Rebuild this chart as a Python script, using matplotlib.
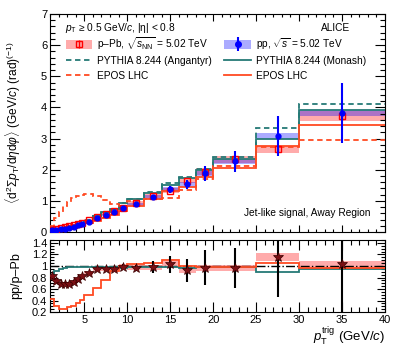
import numpy as np
import matplotlib
matplotlib.use("Agg")
import matplotlib.pyplot as plt
from matplotlib.lines import Line2D
from matplotlib.patches import Patch
from matplotlib.legend_handler import HandlerTuple
from matplotlib.ticker import MultipleLocator, FuncFormatter

plt.rcParams['font.family'] = ['Liberation Sans', 'DejaVu Sans']
plt.rcParams['mathtext.fontset'] = 'custom'
plt.rcParams['mathtext.rm'] = 'Liberation Sans'
plt.rcParams['mathtext.it'] = 'Liberation Sans:italic'
plt.rcParams['mathtext.bf'] = 'Liberation Sans:bold'

# ---------------- data ----------------
edges = [1, 1.5, 2, 2.5, 3, 3.5, 4, 4.5, 5, 6, 7, 8, 9, 10, 12, 14, 16, 18, 20, 25, 30, 40]

pp_val = [0.05, 0.07, 0.09, 0.11, 0.14, 0.17, 0.21, 0.25, 0.33, 0.44, 0.55, 0.65, 0.76, 0.89,
          1.13, 1.37, 1.53, 1.88, 2.27, 3.09, 3.82]
pp_stat = [0.005, 0.005, 0.006, 0.007, 0.008, 0.009, 0.01, 0.012, 0.015, 0.02, 0.025, 0.03,
           0.04, 0.05, 0.07, 0.12, 0.15, 0.24, 0.33, 0.64, 0.97]
pp_syst = [0.01, 0.01, 0.01, 0.01, 0.012, 0.014, 0.015, 0.017, 0.02, 0.025, 0.03, 0.035,
           0.04, 0.045, 0.055, 0.065, 0.07, 0.08, 0.09, 0.09, 0.1]

ppb_val = [0.06, 0.094, 0.13, 0.16, 0.20, 0.23, 0.27, 0.30, 0.375, 0.47, 0.585, 0.685, 0.77,
           0.92, 1.15, 1.33, 1.65, 1.94, 2.34, 2.65, 3.72]
ppb_stat = [0.003, 0.004, 0.004, 0.005, 0.005, 0.006, 0.006, 0.007, 0.008, 0.01, 0.012, 0.014,
            0.016, 0.02, 0.025, 0.03, 0.035, 0.045, 0.05, 0.09, 0.12]
ppb_syst = [0.012, 0.015, 0.018, 0.02, 0.022, 0.025, 0.028, 0.03, 0.035, 0.04, 0.045, 0.05,
            0.055, 0.06, 0.07, 0.08, 0.09, 0.1, 0.11, 0.1, 0.17]

pythia_monash = [0.06, 0.08, 0.10, 0.13, 0.16, 0.19, 0.23, 0.28, 0.36, 0.50, 0.63, 0.73, 0.92,
                 1.05, 1.25, 1.52, 1.72, 2.00, 2.35, 3.00, 3.92]
pythia_angantyr = [0.07, 0.087, 0.105, 0.134, 0.163, 0.193, 0.232, 0.283, 0.37, 0.51, 0.64,
                   0.74, 0.93, 1.07, 1.27, 1.56, 1.77, 2.03, 2.40, 3.33, 4.12]
epos_pp = [0.08, 0.11, 0.14, 0.17, 0.20, 0.23, 0.26, 0.29, 0.30, 0.36, 0.46, 0.56, 0.66, 0.82,
           1.06, 1.31, 1.43, 1.76, 2.07, 2.76, 3.45]
epos_ppb = [0.20, 0.45, 0.65, 0.82, 0.97, 1.08, 1.16, 1.20, 1.21, 1.15, 1.02, 0.90, 0.80, 1.00,
            1.05, 1.10, 1.36, 1.70, 2.12, 2.74, 2.94]

ratio_val = [0.83, 0.745, 0.69, 0.69, 0.69, 0.73, 0.77, 0.82, 0.88, 0.94, 0.94, 0.95, 0.99,
             0.97, 0.98, 1.03, 0.925, 0.97, 0.97, 1.16, 1.03]
ratio_stat = [0.02, 0.02, 0.02, 0.02, 0.02, 0.02, 0.02, 0.02, 0.02, 0.03, 0.03, 0.04, 0.04,
              0.05, 0.1, 0.15, 0.2, 0.3, 0.35, 0.7, 1.5]
ratio_syst = [0.035, 0.035, 0.035, 0.035, 0.035, 0.035, 0.035, 0.035, 0.035, 0.035, 0.035,
              0.04, 0.04, 0.04, 0.045, 0.06, 0.05, 0.05, 0.05, 0.065, 0.06]
ratio_pythia = [0.85, 0.92, 0.955, 0.97, 0.98, 0.985, 0.99, 0.99, 0.98, 0.98, 0.985, 0.985,
                0.97, 0.98, 0.985, 0.975, 0.97, 0.985, 0.98, 0.90, 0.95]
ratio_epos = [0.42, 0.30, 0.26, 0.26, 0.28, 0.31, 0.35, 0.41, 0.50, 0.62, 0.76, 0.91, 1.00,
              1.03, 1.05, 1.10, 1.00, 0.98, 0.98, 1.06, 0.97]

# ---------------- style ----------------
C_TEAL = '#257a76'
C_ORANGE = '#ff4a22'
C_BLUE = '#0000ff'
C_RED = '#ff0000'
C_STAR = '#7a0f14'

e = np.array(edges)
cen = 0.5 * (e[:-1] + e[1:])
wid = np.diff(e)

fig = plt.figure(figsize=(4.03, 3.49), dpi=100)
ax = fig.add_axes([0.124, 0.3352, 0.831, 0.6247])
axr = fig.add_axes([0.124, 0.106, 0.831, 0.2063])

# ---------------- main panel ----------------
pp_v = np.array(pp_val); pb_v = np.array(ppb_val)
ax.bar(e[:-1], 2 * np.array(ppb_syst), bottom=pb_v - np.array(ppb_syst), width=wid,
       align='edge', color=C_RED, alpha=0.33, lw=0, zorder=1)
ax.bar(e[:-1], 2 * np.array(pp_syst), bottom=pp_v - np.array(pp_syst), width=wid,
       align='edge', color=C_BLUE, alpha=0.33, lw=0, zorder=1)

ax.stairs(pythia_angantyr, edges, color=C_TEAL, lw=1.3, ls=(0, (3, 2)), baseline=None, zorder=3)
ax.stairs(pythia_monash, edges, color=C_TEAL, lw=1.3, baseline=None, zorder=3)
ax.stairs(epos_ppb, edges, color=C_ORANGE, lw=1.3, ls=(0, (3, 2)), baseline=None, zorder=3)
ax.stairs(epos_pp, edges, color=C_ORANGE, lw=1.3, baseline=None, zorder=3)

ax.errorbar(cen, pb_v, yerr=ppb_stat, fmt='s', ms=4, mfc='none', mec=C_RED, mew=1.0,
            ecolor=C_RED, elinewidth=1.0, capsize=0, zorder=4)
ax.errorbar(cen, pp_v, yerr=pp_stat, fmt='o', ms=3.5, color=C_BLUE, mec=C_BLUE,
            ecolor=C_BLUE, elinewidth=1.5, capsize=0, zorder=5)

ax.set_xlim(1, 40)
ax.set_ylim(0, 7)
ax.xaxis.set_major_locator(MultipleLocator(5))
ax.xaxis.set_minor_locator(MultipleLocator(1))
ax.yaxis.set_major_locator(MultipleLocator(1))
ax.yaxis.set_minor_locator(MultipleLocator(0.2))
ax.tick_params(axis='both', which='both', direction='in', top=True, right=True, labelsize=8)
ax.tick_params(axis='y', which='major', length=7, width=0.8, pad=2)
ax.tick_params(axis='y', which='minor', length=3.5, width=0.8)
ax.tick_params(axis='x', which='major', length=5, width=0.8)
ax.tick_params(axis='x', which='minor', length=2.5, width=0.8)
ax.tick_params(axis='x', labelbottom=False)
ax.set_ylabel(r'$\langle \mathrm{d}^{2}\Sigma p_{\mathrm{T}}/\mathrm{d}\eta\mathrm{d}\varphi\rangle$ (GeV/$c$) (rad)$^{(-1)}$',
              fontsize=8.6)
ax.yaxis.set_label_coords(-0.082, 0.5)

ax.text(0.045, 0.935, r'$p_{\mathrm{T}}$ ≥ 0.5 GeV/$c$, |η| < 0.8', transform=ax.transAxes,
        fontsize=7.3, va='center', ha='left')
ax.text(0.81, 0.935, 'ALICE', transform=ax.transAxes, fontsize=7.3, va='center', ha='left')
ax.text(0.958, 0.085, 'Jet-like signal, Away Region', transform=ax.transAxes, fontsize=7.3,
        va='center', ha='right')

h_ppb = (Patch(facecolor=C_RED, alpha=0.33, lw=0),
         Line2D([], [], color=C_RED, marker='|', ms=6, ls='none', mew=1.0),
         Line2D([], [], color=C_RED, marker='s', ms=4, mfc='none', ls='none', mew=1.0))
h_pp = (Patch(facecolor=C_BLUE, alpha=0.33, lw=0),
        Line2D([], [], color=C_BLUE, marker='|', ms=10, ls='none', mew=1.5),
        Line2D([], [], color=C_BLUE, marker='o', ms=4, ls='none'))
h_ang = Line2D([], [], color=C_TEAL, lw=1.3, ls=(0, (3, 2)))
h_mon = Line2D([], [], color=C_TEAL, lw=1.3)
h_eppb = Line2D([], [], color=C_ORANGE, lw=1.3, ls=(0, (3, 2)))
h_epp = Line2D([], [], color=C_ORANGE, lw=1.3)
leg = ax.legend([h_ppb, h_ang, h_eppb, h_pp, h_mon, h_epp],
                [r'p–Pb, $\sqrt{s_{\mathrm{NN}}}$ = 5.02 TeV', 'PYTHIA 8.244 (Angantyr)', 'EPOS LHC',
                 r'pp, $\sqrt{s}$ = 5.02 TeV', 'PYTHIA 8.244 (Monash)', 'EPOS LHC'],
                handler_map={tuple: HandlerTuple(ndivide=1, pad=0)},
                ncol=2, loc='upper left', bbox_to_anchor=(66 / 403, 1 - 35 / 349),
                bbox_transform=fig.transFigure, frameon=False, fontsize=7.3,
                handlelength=2.6, handleheight=1.0, handletextpad=0.5, labelspacing=0.45,
                columnspacing=1.2, borderpad=0, borderaxespad=0)

# ---------------- ratio panel ----------------
r_v = np.array(ratio_val); r_s = np.array(ratio_syst)
axr.bar(e[:-1], 2 * r_s, bottom=r_v - r_s, width=wid, align='edge', color=C_RED, alpha=0.33,
        lw=0, zorder=1)
axr.axhline(1.0, color='black', lw=1.0, ls='-.', zorder=2)
axr.stairs(ratio_pythia, edges, color=C_TEAL, lw=1.3, baseline=None, zorder=3)
axr.stairs(ratio_epos, edges, color=C_ORANGE, lw=1.3, baseline=None, zorder=3)
axr.errorbar(cen, r_v, yerr=ratio_stat, fmt='*', ms=7, color=C_STAR, mec='#3a0000', mew=0.5,
             ecolor='black', elinewidth=1.5, capsize=0, zorder=5)

axr.set_xlim(1, 40)
axr.set_ylim(0.2, 1.452)
axr.xaxis.set_major_locator(MultipleLocator(5))
axr.xaxis.set_minor_locator(MultipleLocator(1))
axr.yaxis.set_major_locator(MultipleLocator(0.2))
axr.yaxis.set_minor_locator(MultipleLocator(0.05))
axr.yaxis.set_major_formatter(FuncFormatter(lambda v, p: f'{v:g}'))
axr.tick_params(axis='both', which='both', direction='in', top=True, right=True, labelsize=8)
axr.tick_params(axis='y', which='major', length=6, width=0.8, pad=2)
axr.tick_params(axis='y', which='minor', length=3, width=0.8)
axr.tick_params(axis='x', which='major', length=7, width=0.8, pad=2)
axr.tick_params(axis='x', which='minor', length=3.5, width=0.8)
axr.set_ylabel('pp/p–Pb', fontsize=9)
axr.yaxis.set_label_coords(-0.082, 0.5)
axr.set_xlabel(r'$p_{\mathrm{T}}^{\mathrm{trig}}$ (GeV/$c$)', fontsize=9.5, labelpad=0)
axr.xaxis.set_label_coords(1.0, -0.185)
axr.xaxis.label.set_horizontalalignment('right')

fig.savefig('out.png', dpi=100)
